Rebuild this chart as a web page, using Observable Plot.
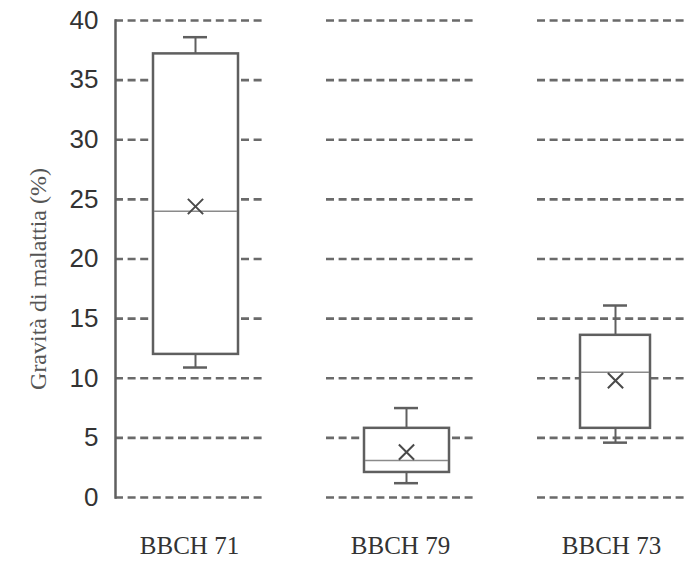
<!DOCTYPE html>
<html>
<head>
<meta charset="utf-8">
<script src="https://cdn.jsdelivr.net/npm/d3@7"></script>
<script src="https://cdn.jsdelivr.net/npm/@observablehq/plot@0.6"></script>
<style>
  html, body { margin: 0; padding: 0; background: #fff; }
</style>
</head>
<body>
<div id="chart"></div>
<script>
const categories = ["BBCH 71", "BBCH 79", "BBCH 73"];
const whiskerLow = [10.9, 1.2, 4.6];
const q1 = [12.0, 2.1, 5.8];
const median = [24.0, 3.1, 10.5];
const q3 = [37.2, 5.8, 13.6];
const whiskerHigh = [38.6, 7.5, 16.1];
const mean = [24.4, 3.8, 9.8];
const yTicks = [0, 5, 10, 15, 20, 25, 30, 35, 40];
const yLabel = "Gravità di malattia (%)";

const rows = categories.map((c, i) => ({
  cat: c, lo: whiskerLow[i], q1: q1[i], med: median[i], q3: q3[i], hi: whiskerHigh[i], mean: mean[i]
}));
const grid = categories.flatMap(c => yTicks.map(t => ({cat: c, y: t})));

const boxStroke = "#5f5f5f";
const serif = "Liberation Serif, Times New Roman, serif";
const wide = rows.filter(d => d.cat !== "BBCH 73");
const narrow = rows.filter(d => d.cat === "BBCH 73");

function boxMarks(data, insetLeft, insetRight, dx) {
  const capL = 74 + dx - 12, capR = 148 - capL - 24;
  return [
    Plot.ruleX(data, {x: "cat", y1: "q3", y2: "hi", dx, stroke: boxStroke, strokeWidth: 2}),
    Plot.ruleX(data, {x: "cat", y1: "lo", y2: "q1", dx, stroke: boxStroke, strokeWidth: 2}),
    Plot.tickY(data, {x: "cat", y: "hi", insetLeft: capL, insetRight: capR, stroke: boxStroke, strokeWidth: 2.5}),
    Plot.tickY(data, {x: "cat", y: "lo", insetLeft: capL, insetRight: capR, stroke: boxStroke, strokeWidth: 2.5}),
    Plot.barY(data, {x: "cat", y1: "q1", y2: "q3", insetLeft, insetRight, fill: "white", stroke: boxStroke, strokeWidth: 2.5}),
    Plot.tickY(data, {x: "cat", y: "med", insetLeft: insetLeft + 1, insetRight: insetRight + 1, stroke: "#8a8a8a", strokeWidth: 1.6}),
    Plot.dot(data, {x: "cat", y: "mean", dx, symbol: "times", r: 7, stroke: "#4a4a4a", strokeWidth: 2})
  ];
}

const chart = Plot.plot({
  width: 692,
  height: 563,
  marginLeft: 115,
  marginRight: 7,
  marginTop: 20,
  marginBottom: 66,
  style: {background: "#fff"},
  x: {domain: categories, paddingInner: 0.3, paddingOuter: 0},
  y: {domain: [0, 40]},
  marks: [
    Plot.tickY(grid, {x: "cat", y: "y", stroke: "#6a6a6a", strokeWidth: 2.6, strokeDasharray: "8,4.6"}),
    Plot.frame({anchor: "left", stroke: boxStroke, strokeWidth: 2.5}),
    Plot.axisY(yTicks, {tickSize: 0, tickPadding: 17, fontSize: 26, fontFamily: "Liberation Sans, Arial, sans-serif", fill: "#333", label: null}),
    Plot.axisX({tickSize: 0, tickPadding: 39, fontSize: 25, fontFamily: serif, fill: "#333", label: null}),
    Plot.text([yLabel], {frameAnchor: "left", dx: -77, dy: 20, rotate: -90, textAnchor: "middle", fontSize: 24, fontFamily: serif, fill: "#555"}),
    ...boxMarks(wide, 38, 25, 6),
    ...boxMarks(narrow, 43, 35, 4)
  ]
});
document.getElementById("chart").appendChild(chart);
</script>
</body>
</html>
